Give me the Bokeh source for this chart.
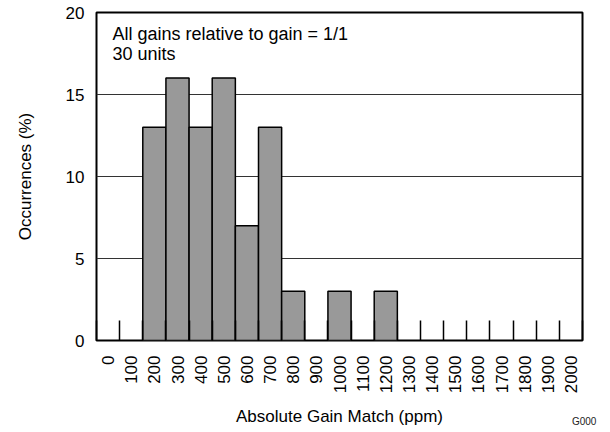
from math import pi
from bokeh.plotting import figure
from bokeh.models import ColumnDataSource, Range1d, FixedTicker, Label
from bokeh.embed import file_html
from bokeh.resources import INLINE

# ---- data ----
categories = ["0", "100", "200", "300", "400", "500", "600", "700", "800", "900", "1000",
              "1100", "1200", "1300", "1400", "1500", "1600", "1700", "1800", "1900", "2000"]
occurrences = [0, 0, 13, 16, 13, 16, 7, 13, 3, 0, 3, 0, 3, 0, 0, 0, 0, 0, 0, 0, 0]
y_ticks = [0, 5, 10, 15, 20]
note_lines = ["All gains relative to gain = 1/1", "30 units"]
x_title = "Absolute Gain Match (ppm)"
y_title = "Occurrences (%)"
code_tag = "G000"

FONT = "Liberation Sans"

idx = [i for i, v in enumerate(occurrences) if v > 0]
src = ColumnDataSource(dict(x=idx, top=[occurrences[i] for i in idx]))

p = figure(width=610, height=432, output_backend="svg", toolbar_location=None,
           x_range=Range1d(-0.5, len(categories) - 0.5), y_range=Range1d(0, 20),
           min_border_left=96, min_border_right=28, min_border_top=12, min_border_bottom=92)

p.vbar(x="x", top="top", width=1, source=src, fill_color="#999999",
       line_color="black", line_width=1.5)

# frame
p.outline_line_color = "black"
p.outline_line_width = 2
p.outline_line_alpha = 1

# grid
p.xgrid.visible = False
p.ygrid.ticker = FixedTicker(ticks=y_ticks)
p.ygrid.grid_line_color = "#333333"
p.ygrid.grid_line_width = 1

# x axis
xa = p.xaxis[0]
xa.ticker = FixedTicker(ticks=list(range(len(categories))),
                        minor_ticks=[i - 0.5 for i in range(len(categories) + 1)])
xa.major_label_overrides = {i: c for i, c in enumerate(categories)}
xa.major_label_orientation = pi / 2
xa.major_tick_in = 0
xa.major_tick_out = 0
xa.minor_tick_in = 20
xa.minor_tick_out = 0
xa.minor_tick_line_color = "black"
xa.minor_tick_line_width = 1.5
xa.axis_line_color = None
xa.major_label_standoff = 15
xa.major_label_text_font = FONT
xa.major_label_text_font_size = "17px"
xa.major_label_text_color = "black"
xa.axis_label = x_title
xa.axis_label_text_font = FONT
xa.axis_label_text_font_size = "17px"
xa.axis_label_text_font_style = "normal"
xa.axis_label_text_color = "black"
xa.axis_label_standoff = 11

# y axis
ya = p.yaxis[0]
ya.ticker = FixedTicker(ticks=y_ticks)
ya.major_tick_in = 0
ya.major_tick_out = 0
ya.minor_tick_in = 0
ya.minor_tick_out = 0
ya.axis_line_color = None
ya.major_label_standoff = 12
ya.major_label_text_font = FONT
ya.major_label_text_font_size = "17px"
ya.major_label_text_color = "black"
ya.axis_label = y_title
ya.axis_label_text_font = FONT
ya.axis_label_text_font_size = "17px"
ya.axis_label_text_font_style = "normal"
ya.axis_label_text_color = "black"
ya.axis_label_standoff = 28

# note text
p.add_layout(Label(x=0.19, y=18.66, text=note_lines[0], text_font=FONT,
                   text_font_size="18px", text_baseline="middle", text_color="black"))
p.add_layout(Label(x=0.19, y=17.45, text=note_lines[1], text_font=FONT,
                   text_font_size="18px", text_baseline="middle", text_color="black"))

# code tag at the bottom-right corner (kept in the right side panel so it is not clipped)
p.add_layout(Label(x=21.1, y=-4.94, text=code_tag, text_font=FONT,
                   text_font_size="10px", text_align="right", text_baseline="middle",
                   text_color="#222222"), "right")

open("out.html", "w").write(file_html(p, INLINE))
